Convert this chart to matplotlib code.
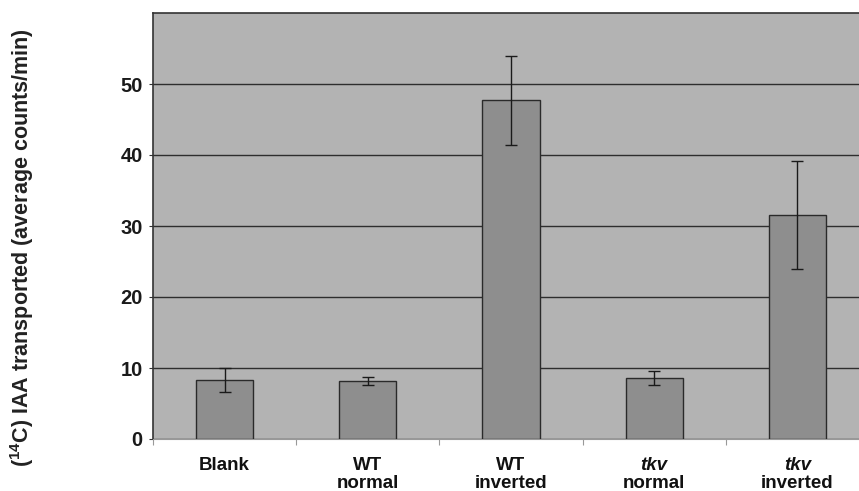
import numpy as np
import matplotlib.pyplot as plt
import matplotlib.transforms as mtransforms

plt.rcParams['font.family'] = ['Liberation Sans', 'DejaVu Sans']
plt.rcParams['mathtext.fontset'] = 'custom'
plt.rcParams['mathtext.rm'] = 'Liberation Sans'
plt.rcParams['mathtext.bf'] = 'Liberation Sans:bold'

grupos = ['Blank', 'WT', 'WT', 'tkv', 'tkv']
subetiquetas = ['', 'normal', 'inverted', 'normal', 'inverted']
cursiva = [False, False, False, True, True]
medias = [8.3, 8.2, 47.7, 8.6, 31.6]
errores = [1.7, 0.6, 6.3, 1.0, 7.6]
yticks = [0, 10, 20, 30, 40, 50]

fig = plt.figure(figsize=(8.59, 4.91), dpi=100)
ax = fig.add_axes([153 / 859, 1 - 439 / 491, 1 - 153 / 859, (439 - 13) / 491])
ax.set_facecolor('#b3b3b3')

x = np.arange(len(medias))
ax.bar(x, medias, 0.4, color='#8e8e8e', edgecolor='#2a2a2a', linewidth=1.0, zorder=3)
ax.errorbar(x, medias, yerr=errores, fmt='none', ecolor='#1a1a1a',
            elinewidth=1.0, capsize=4, capthick=1.0, zorder=4)

ax.set_xlim(-0.5, 4.43)
ax.set_ylim(0, 60)
ax.set_yticks(yticks)
ax.set_yticklabels([str(v) for v in yticks], fontsize=14.5, fontweight='bold', color='#1a1a1a')
ax.yaxis.grid(True, color='#2e2e2e', linewidth=1.0, zorder=1)
ax.tick_params(axis='y', length=3, width=0.8, color='#333333', pad=4.5)

ax.set_xticks(np.arange(-0.5, 4.5, 1.0))
ax.set_xticklabels([])
ax.tick_params(axis='x', length=4, width=0.8, color='#999999')

for lado in ['left', 'top']:
    ax.spines[lado].set_color('#333333')
    ax.spines[lado].set_linewidth(1.2)
ax.spines['bottom'].set_color('#999999')
ax.spines['right'].set_visible(False)

# etiquetas de categoría en dos líneas (la primera puede ir en cursiva)
trans = mtransforms.blended_transform_factory(ax.transData, ax.transAxes)
for i, (g, s, it) in enumerate(zip(grupos, subetiquetas, cursiva)):
    ax.text(i, -31 / 426, g, transform=trans, ha='center', va='baseline', fontsize=13.5,
            fontweight='bold', fontstyle='italic' if it else 'normal', color='#111111')
    if s:
        ax.text(i, -49 / 426, s, transform=trans, ha='center', va='baseline', fontsize=13.5,
                fontweight='bold', color='#111111')

fig.text(22 / 859, 1 - 248 / 491, r'($^{\mathbf{14}}$C) IAA transported (average counts/min)',
         rotation=90, ha='center', va='center', fontsize=15.5, fontweight='bold',
         color='#222222')

fig.savefig('out.png', dpi=100)
